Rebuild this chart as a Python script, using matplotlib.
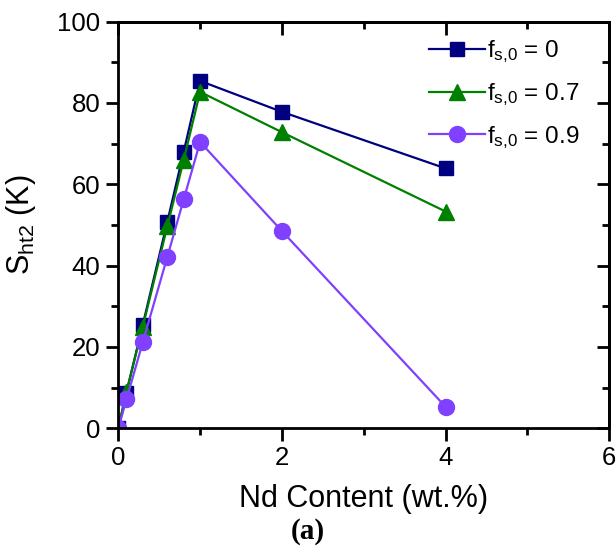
import numpy as np
import matplotlib
matplotlib.use('Agg')
import matplotlib.pyplot as plt
from matplotlib.ticker import MultipleLocator

plt.rcParams['font.family'] = ['Liberation Sans', 'DejaVu Sans']
plt.rcParams['mathtext.fontset'] = 'custom'
plt.rcParams['mathtext.rm'] = 'Liberation Sans'
plt.rcParams['mathtext.it'] = 'Liberation Sans:italic'

# Nd content (wt.%) and S_ht2 (K) for three f_s,0 values
nd = [0.0, 0.1, 0.3, 0.6, 0.8, 1.0, 2.0, 4.0]
s_f0 = [0.0, 8.8, 25.5, 50.8, 68.0, 85.4, 77.8, 63.9]
s_f07 = [0.0, 9.0, 25.0, 49.7, 66.0, 82.7, 72.8, 53.3]
s_f09 = [0.0, 7.1, 21.2, 42.2, 56.3, 70.4, 48.5, 5.3]
labels = [r'f$_{\rm s{,}0}$ = 0', r'f$_{\rm s{,}0}$ = 0.7', r'f$_{\rm s{,}0}$ = 0.9']

fig = plt.figure(figsize=(6.16, 5.52), dpi=100)
ax = fig.add_axes([0.192, 0.224, 0.797, 0.737])

ax.plot(nd, s_f0, '-s', c='#000080', lw=1.6, ms=9.5, label=labels[0])
ax.plot(nd, s_f07, '-^', c='#008000', lw=1.6, ms=12, label=labels[1])
ax.plot(nd, s_f09, '-o', c='#8040ff', lw=1.6, ms=11.5, label=labels[2])

ax.set_xlim(0, 6)
ax.set_ylim(0, 100)
ax.xaxis.set_major_locator(MultipleLocator(2))
ax.xaxis.set_minor_locator(MultipleLocator(1))
ax.yaxis.set_major_locator(MultipleLocator(20))
ax.yaxis.set_minor_locator(MultipleLocator(10))

for sp in ax.spines.values():
   sp.set_linewidth(2)
ax.tick_params(which='both', direction='out', width=2, labelsize=18.5, pad=4)
ax.tick_params(which='major', length=9)
ax.tick_params(which='minor', length=5)

# inward mirror ticks on top and right
ax_t = ax.secondary_xaxis('top')
ax_t.xaxis.set_major_locator(MultipleLocator(2))
ax_t.xaxis.set_minor_locator(MultipleLocator(1))
ax_t.tick_params(which='both', direction='in', width=2, labeltop=False)
ax_t.tick_params(which='major', length=9)
ax_t.tick_params(which='minor', length=5)
ax_t.spines['top'].set_linewidth(2)
ax_r = ax.secondary_yaxis('right')
ax_r.yaxis.set_major_locator(MultipleLocator(20))
ax_r.yaxis.set_minor_locator(MultipleLocator(10))
ax_r.tick_params(which='both', direction='in', width=2, labelright=False)
ax_r.tick_params(which='major', length=9)
ax_r.tick_params(which='minor', length=5)
ax_r.spines['right'].set_linewidth(2)

ax.set_xlabel('Nd Content (wt.%)', fontsize=22, labelpad=10)
ax.set_ylabel(r'S$_{\rm ht2}$ (K)', fontsize=22, labelpad=14)

leg = ax.legend(loc='upper right', bbox_to_anchor=(0.975, 1.0),
   frameon=False, fontsize=17.5,
   handlelength=2.3, handletextpad=0.1, labelspacing=0.65,
   borderaxespad=0.3)

fig.text(0.5, 0.038, '(a)', fontsize=21, fontweight='bold',
   family='Liberation Serif', ha='center', va='center')

fig.savefig('out.png', dpi=100)
